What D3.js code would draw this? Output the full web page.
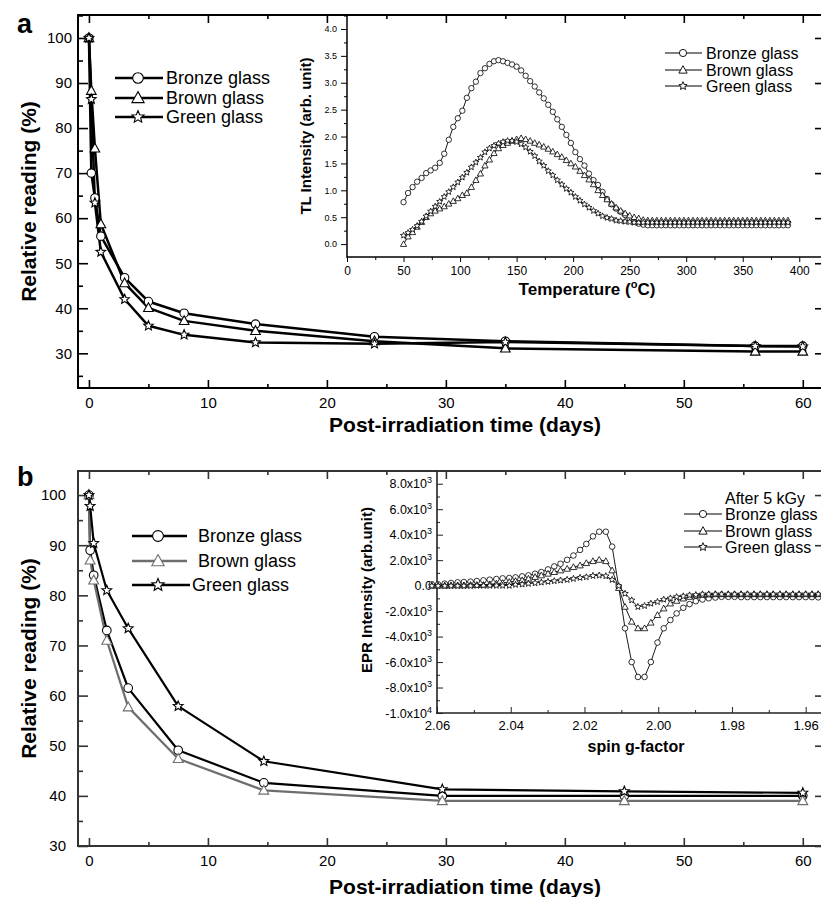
<!DOCTYPE html>
<html><head><meta charset="utf-8">
<script src="https://cdn.jsdelivr.net/npm/d3@7"></script>
<style>body{margin:0;background:#fff}svg{display:block}</style>
</head><body>
<svg id="c" width="821" height="897"></svg>
<script>
// ---------------- DATA ----------------
const seriesNames = ["Bronze glass", "Brown glass", "Green glass"];

// Panel a: main (post-irradiation fading)
const daysA   = [0, 0.2, 0.5, 1, 3, 5, 8, 14, 24, 35, 56, 60];
const bronzeA = [100, 70, 64.5, 56, 46.8, 41.5, 38.9, 36.5, 33.7, 32.7, 31.6, 31.6];
const brownA  = [100, 88.3, 75.5, 58.7, 45.6, 40.1, 37.2, 35.0, 32.7, 31.1, 30.4, 30.4];
const greenA  = [100, 86.4, 63.4, 52.5, 42.0, 36.1, 34.1, 32.4, 32.1, 32.5, 31.6, 31.5];

// Panel b: main
const daysB   = [0, 0.1, 0.4, 1.5, 3.3, 7.5, 14.7, 29.7, 45, 60];
const bronzeB = [100, 89, 84, 73, 61.5, 49.1, 42.6, 40.0, 40.0, 40.0];
const brownB  = [100, 87, 83, 71, 57.7, 47.4, 41.1, 39.0, 39.0, 39.0];
const greenB  = [100, 97.8, 90.4, 81, 73.4, 57.9, 46.9, 41.3, 40.9, 40.6];

// Main axis ticks
const xMajorMain = [0, 10, 20, 30, 40, 50, 60];
const xMinorMain = [5, 15, 25, 35, 45, 55];
const yMajorMain = [30, 40, 50, 60, 70, 80, 90, 100];
const yMinorA    = [25, 35, 45, 55, 65, 75, 85, 95, 105];
const yMinorB    = [35, 45, 55, 65, 75, 85, 95];

// Inset a: TL glow curves
const tlTemp = [50,54,58,62,66,70,74,78,82,86,90,94,98,102,106,110,114,118,122,126,
  130,134,138,142,146,150,154,158,162,166,170,174,178,182,186,190,194,198,202,206,
  210,214,218,222,226,230,234,238,242,246,250,254,258,262,266,270,274,278,282,286,
  290,294,298,302,306,310,314,318,322,326,330,334,338,342,346,350,354,358,362,366,
  370,374,378,382,386,390];
const tlBronze = [0.78,0.95,1.06,1.16,1.23,1.32,1.37,1.42,1.51,1.68,
  1.94,2.18,2.34,2.48,2.72,2.90,3.02,3.18,3.27,3.35,
  3.40,3.42,3.40,3.37,3.34,3.30,3.23,3.13,3.03,2.93,
  2.82,2.71,2.59,2.46,2.32,2.18,2.03,1.88,1.71,1.58,
  1.46,1.31,1.19,1.10,0.97,0.84,0.74,0.66,0.60,0.54,
  0.47,0.42,0.38,0.36,0.35,0.35,0.35,0.35,0.35,0.35,
  0.35,0.35,0.35,0.35,0.35,0.35,0.35,0.35,0.35,0.35,
  0.35,0.35,0.35,0.35,0.35,0.35,0.35,0.35,0.35,0.35,
  0.35,0.35,0.35,0.35,0.35,0.35];
const tlBrown = [0.00,0.14,0.22,0.32,0.41,0.50,0.57,0.62,0.66,0.70,
  0.75,0.80,0.85,0.91,0.95,1.06,1.19,1.31,1.46,1.57,
  1.69,1.78,1.84,1.88,1.92,1.95,1.97,1.95,1.92,1.88,
  1.85,1.81,1.77,1.72,1.67,1.62,1.56,1.50,1.44,1.36,
  1.28,1.20,1.11,1.00,0.91,0.83,0.75,0.68,0.62,0.57,
  0.53,0.50,0.48,0.45,0.44,0.44,0.44,0.44,0.44,0.44,
  0.44,0.44,0.44,0.44,0.44,0.44,0.44,0.44,0.44,0.44,
  0.44,0.44,0.44,0.44,0.44,0.44,0.44,0.44,0.44,0.44,
  0.44,0.44,0.44,0.44,0.44,0.44];
const tlGreen = [0.16,0.21,0.27,0.34,0.42,0.52,0.61,0.70,0.79,0.88,
  0.97,1.06,1.15,1.24,1.33,1.43,1.52,1.61,1.71,1.78,
  1.83,1.87,1.90,1.92,1.92,1.90,1.86,1.80,1.72,1.64,
  1.54,1.46,1.36,1.28,1.19,1.11,1.03,0.96,0.88,0.81,
  0.74,0.68,0.62,0.57,0.52,0.49,0.47,0.44,0.43,0.42,
  0.41,0.40,0.40,0.40,0.40,0.40,0.40,0.40,0.40,0.40,
  0.40,0.40,0.40,0.40,0.40,0.40,0.40,0.40,0.40,0.40,
  0.40,0.40,0.40,0.40,0.40,0.40,0.40,0.40,0.40,0.40,
  0.40,0.40,0.40,0.40,0.40,0.40];
const tlXMajor = [0, 50, 100, 150, 200, 250, 300, 350, 400];
const tlXMinor = [25, 75, 125, 175, 225, 275, 325, 375];
const tlYMajor = [0, 0.5, 1.0, 1.5, 2.0, 2.5, 3.0, 3.5, 4.0];
const tlYMinor = [0.25, 0.75, 1.25, 1.75, 2.25, 2.75, 3.25, 3.75, 4.25];

// Inset b: EPR spectra
const epG = [2.0614,2.0597,2.0579,2.0562,2.0544,2.0527,2.0509,2.0492,2.0474,2.0457,
  2.0439,2.0422,2.0404,2.0387,2.0369,2.0352,2.0334,2.0317,2.0299,2.0282,
  2.0265,2.0247,2.0230,2.0212,2.0195,2.0177,2.0160,2.0142,2.0125,2.0107,
  2.0090,2.0072,2.0055,2.0037,2.0020,2.0002,1.9985,1.9967,1.9950,1.9932,
  1.9915,1.9898,1.9880,1.9863,1.9845,1.9828,1.9810,1.9793,1.9775,1.9758,
  1.9740,1.9723,1.9705,1.9688,1.9670,1.9653,1.9635,1.9618,1.9600,1.9583,1.9566];
const epBronze = [104,104,156,208,260,286,312,364,416,467,
  519,571,597,649,727,805,935,1065,1273,1506,
  1714,2026,2363,2805,3272,3870,4233,4233,3064,-100,
  -3350,-6000,-7170,-7170,-6000,-4470,-3350,-2700,-2180,-1740,
  -1450,-1220,-1090,-990,-935,-880,-880,-880,-900,-900,
  -900,-900,-900,-900,-900,-900,-900,-900,-900,-900,-920];
const epBrown = [0,0,0,26,26,26,52,52,52,104,
  156,208,286,364,416,545,675,805,935,1065,
  1195,1324,1454,1584,1766,1922,2026,1922,1195,-182,
  -1662,-2831,-3350,-3350,-2909,-2311,-1792,-1402,-1195,-1013,
  -883,-779,-727,-701,-675,-675,-675,-675,-675,-675,
  -675,-675,-675,-675,-675,-675,-675,-675,-675,-675,-675];
const epGreen = [-26,-26,-26,-26,-26,-26,-26,0,0,0,
  0,0,0,78,104,156,208,260,312,364,
  416,467,545,623,675,779,805,753,467,-26,
  -623,-1143,-1662,-1584,-1402,-1273,-1091,-987,-883,-831,
  -753,-727,-675,-675,-675,-675,-675,-675,-675,-675,
  -675,-675,-675,-675,-675,-675,-675,-675,-675,-675,-675];
const epXMajor = [2.06, 2.04, 2.02, 2.00, 1.98, 1.96];
const epXMinor = [2.05, 2.03, 2.01, 1.99, 1.97];
const epYMajor = [-10000, -8000, -6000, -4000, -2000, 0, 2000, 4000, 6000, 8000];
const epYMinor = [-9000, -7000, -5000, -3000, -1000, 1000, 3000, 5000, 7000];

// ---------------- DRAWING ----------------
const SANS = "'Liberation Sans', Arial, Helvetica, sans-serif";
const NARROW = "'Liberation Sans Narrow', 'Arial Narrow', 'Liberation Sans', sans-serif";
const svg = d3.select("#c");
svg.append("rect").attr("width", 821).attr("height", 897).attr("fill", "#fff");

const xA = d3.scaleLinear().domain([-0.92, 61.7]).range([78, 823]);
const yA = d3.scaleLinear().domain([22.3, 105.1]).range([388, 15]);
const xB = d3.scaleLinear().domain([-0.92, 61.7]).range([78, 823]);
const yB = d3.scaleLinear().domain([30, 104.8]).range([846, 471]);
const xTL = d3.scaleLinear().domain([0, 421]).range([347, 823]);
const yTL = d3.scaleLinear().domain([-0.24, 4.26]).range([257, 15]);
const xEP = d3.scaleLinear().domain([2.06, 1.9553]).range([437, 823]);
const yEP = d3.scaleLinear().domain([-10000, 9000]).range([713, 471]);

function triPath(s) { const a = s * 1.15, h = a * 1.8; return `M0,${-h*0.58}L${a},${h*0.42}L${-a},${h*0.42}Z`; }
function starPath(R) {
  let p = "";
  for (let k = 0; k < 10; k++) {
    const rr = k % 2 ? R * 0.45 : R, ang = -Math.PI / 2 + k * Math.PI / 5;
    p += (k ? "L" : "M") + (rr * Math.cos(ang)).toFixed(2) + "," + (rr * Math.sin(ang)).toFixed(2);
  }
  return p + "Z";
}
function drawMarker(g, type, x, y, s, stroke, sw) {
  if (type === "circle") {
    g.append("circle").attr("cx", x).attr("cy", y).attr("r", s)
      .attr("fill", "#fff").attr("stroke", stroke).attr("stroke-width", sw);
  } else {
    g.append("path").attr("d", type === "triangle" ? triPath(s) : starPath(s * 1.2))
      .attr("transform", `translate(${x},${y})`)
      .attr("fill", "#fff").attr("stroke", stroke).attr("stroke-width", sw).attr("stroke-linejoin", "miter");
  }
}
function drawLine(g, xs, ys, xs_, ys_, color, lw) {
  const line = d3.line().x((d, i) => xs_(xs[i])).y(d => ys_(d));
  g.append("path").datum(ys).attr("d", line).attr("fill", "none")
    .attr("stroke", color).attr("stroke-width", lw).attr("stroke-linejoin", "round");
}
function drawMarkers(g, xs, ys, xs_, ys_, type, color, s, sw) {
  ys.forEach((v, i) => drawMarker(g, type, xs_(xs[i]), ys_(v), s, color, sw));
}
function addAxis(parent, gen, tx, ty, o) {
  const g = parent.append("g").attr("transform", `translate(${tx},${ty})`).call(gen);
  g.select(".domain").remove();
  g.selectAll(".tick line").attr("stroke", o.color).attr("stroke-width", o.tw);
  g.selectAll(".tick text").attr("fill", "#000").style("font-family", o.font || SANS)
    .style("font-size", (o.size || 10) + "px");
  return g;
}
function hline(g, x1, x2, y, c, w) { g.append("line").attr("x1", x1).attr("x2", x2).attr("y1", y).attr("y2", y).attr("stroke", c).attr("stroke-width", w); }
function vline(g, x, y1, y2, c, w) { g.append("line").attr("x1", x).attr("x2", x).attr("y1", y1).attr("y2", y2).attr("stroke", c).attr("stroke-width", w); }

function mainPanel(xS, yS, yMinor, top, bottom, frameColor, yPad, labelChar, labelY) {
  const g = svg.append("g");
  const noLab = () => "";
  addAxis(g, d3.axisLeft(yS).tickValues(yMajorMain).tickSize(-10).tickPadding(yPad).tickFormat(d3.format("d")), 78, 0, {color: frameColor, tw: 1.6, size: 15});
  addAxis(g, d3.axisLeft(yS).tickValues(yMinor).tickSize(-5).tickFormat(noLab), 78, 0, {color: frameColor, tw: 1.6});
  addAxis(g, d3.axisRight(yS).tickValues(yMajorMain).tickSize(-8).tickFormat(noLab), 823, 0, {color: frameColor, tw: 1.6});
  addAxis(g, d3.axisBottom(xS).tickValues(xMajorMain).tickSize(-8).tickPadding(9).tickFormat(d3.format("d")), 0, bottom, {color: frameColor, tw: 1.6, size: 15});
  addAxis(g, d3.axisBottom(xS).tickValues(xMinorMain).tickSize(-4).tickFormat(noLab), 0, bottom, {color: frameColor, tw: 1.6});
  addAxis(g, d3.axisTop(xS).tickValues(xMajorMain).tickSize(-8).tickFormat(noLab), 0, top, {color: frameColor, tw: 1.6});
  addAxis(g, d3.axisTop(xS).tickValues(xMinorMain).tickSize(-4).tickFormat(noLab), 0, top, {color: frameColor, tw: 1.6});
  vline(g, 78, top - 1, bottom + 1, frameColor, 2);
  hline(g, 77, 823, bottom, frameColor, 2);
  hline(g, 77, 823, top, frameColor, 2);
  g.append("text").attr("x", 17).attr("y", labelY).text(labelChar)
    .style("font-family", SANS).style("font-weight", "bold").style("font-size", "27px");
  const cy = (top + bottom) / 2;
  g.append("text").attr("transform", `translate(36,${cy}) rotate(-90)`).attr("text-anchor", "middle")
    .text("Relative reading (%)").style("font-family", SANS).style("font-weight", "bold").style("font-size", "21px");
  return g;
}

// ---------- Panel a ----------
const gA = mainPanel(xA, yA, yMinorA, 15, 388, "#000", 6, "a", 33);
gA.append("text").attr("x", 465).attr("y", 432).attr("text-anchor", "middle")
  .text("Post-irradiation time (days)").style("font-family", SANS).style("font-weight", "bold").style("font-size", "21px");
const seriesA = [[bronzeA, "circle", "#000"], [brownA, "triangle", "#000"], [greenA, "star", "#000"]];
seriesA.forEach(s => drawLine(gA, daysA, s[0], xA, yA, s[2], 2.5));
seriesA.forEach(s => drawMarkers(gA, daysA, s[0], xA, yA, s[1], s[2], 4.2, 1.1));
[78, 98, 117].forEach((ry, i) => {
  hline(gA, 115, 163, ry, "#000", 2.5);
  drawMarker(gA, seriesA[i][1], 138, ry, 5.3, "#000", 1.1);
  gA.append("text").attr("x", 166).attr("y", ry + 6.4).text(seriesNames[i])
    .style("font-family", SANS).style("font-size", "18px");
});

// Inset a
const gTL = svg.append("g");
addAxis(gTL, d3.axisLeft(yTL).tickValues(tlYMajor).tickSize(6).tickPadding(4).tickFormat(d3.format(".1f")), 347, 0, {color: "#000", tw: 1, size: 9, font: NARROW});
addAxis(gTL, d3.axisLeft(yTL).tickValues(tlYMinor).tickSize(3).tickFormat(() => ""), 347, 0, {color: "#000", tw: 1});
addAxis(gTL, d3.axisBottom(xTL).tickValues(tlXMajor).tickSize(5).tickPadding(4).tickFormat(d3.format("d")), 0, 257, {color: "#000", tw: 1, size: 12, font: NARROW});
addAxis(gTL, d3.axisBottom(xTL).tickValues(tlXMinor).tickSize(3).tickFormat(() => ""), 0, 257, {color: "#000", tw: 1});
vline(gTL, 347, 15, 257.5, "#000", 1.5);
hline(gTL, 346.5, 823, 257, "#000", 1.5);
const tlTitle = gTL.append("text").attr("x", 587).attr("y", 295).attr("text-anchor", "middle")
  .style("font-family", NARROW).style("font-weight", "bold").style("font-size", "17px");
tlTitle.append("tspan").text("Temperature  (");
tlTitle.append("tspan").attr("dy", -7).style("font-size", "11px").text("o");
tlTitle.append("tspan").attr("dy", 7).text("C)");
gTL.append("text").attr("transform", "translate(311,136) rotate(-90)").attr("text-anchor", "middle")
  .text("TL Intensity (arb. unit)").style("font-family", SANS).style("font-weight", "bold").style("font-size", "15px");
const seriesTL = [[tlBronze, "circle"], [tlBrown, "triangle"], [tlGreen, "star"]];
seriesTL.forEach(s => drawLine(gTL, tlTemp, s[0], xTL, yTL, "#000", 0.9));
seriesTL.forEach(s => drawMarkers(gTL, tlTemp, s[0], xTL, yTL, s[1], "#000", 2.7, 0.8));
[53, 70, 86].forEach((ry, i) => {
  hline(gTL, 665, 702, ry, "#000", 1);
  drawMarker(gTL, seriesTL[i][1], 683, ry, 3.6, "#000", 0.9);
  gTL.append("text").attr("x", 706).attr("y", ry + 5.7).text(seriesNames[i])
    .style("font-family", SANS).style("font-size", "16px");
});

// ---------- Panel b ----------
const gB = mainPanel(xB, yB, yMinorB, 471, 846, "#333", 12, "b", 486);
gB.append("text").attr("x", 465).attr("y", 894).attr("text-anchor", "middle")
  .text("Post-irradiation time (days)").style("font-family", SANS).style("font-weight", "bold").style("font-size", "21px");
const seriesB = [[bronzeB, "circle", "#000"], [brownB, "triangle", "#6e6e6e"], [greenB, "star", "#000"]];
seriesB.forEach(s => drawLine(gB, daysB, s[0], xB, yB, s[2], 2.2));
seriesB.forEach(s => drawMarkers(gB, daysB, s[0], xB, yB, s[1], s[2], 4.3, 1.1));
[536, 561, 585].forEach((ry, i) => {
  hline(gB, 132, i === 2 ? 190 : 187, ry, seriesB[i][2], 2.5);
  drawMarker(gB, seriesB[i][1], 158, ry, 5.4, seriesB[i][2], 1.1);
  gB.append("text").attr("x", i === 2 ? 192 : 198).attr("y", ry + 6.4).text(seriesNames[i])
    .style("font-family", SANS).style("font-size", "18px");
});

// Inset b
const gEP = svg.append("g");
const epAx = addAxis(gEP, d3.axisLeft(yEP).tickValues(epYMajor).tickSize(-6).tickPadding(5), 437, 0, {color: "#222", tw: 1, size: 12.5});
epAx.selectAll(".tick text").each(function(d) {
  const t = d3.select(this); t.text(null);
  if (d === 0) { t.text("0.0"); return; }
  const e = Math.abs(d) >= 10000 ? 4 : 3;
  const m = d / Math.pow(10, e);
  t.append("tspan").text(m.toFixed(1) + "x10");
  t.append("tspan").attr("dy", -5).style("font-size", "9px").text(String(e));
});
addAxis(gEP, d3.axisLeft(yEP).tickValues(epYMinor).tickSize(-3).tickFormat(() => ""), 437, 0, {color: "#222", tw: 1});
addAxis(gEP, d3.axisBottom(xEP).tickValues(epXMajor).tickSize(-6).tickPadding(8).tickFormat(d3.format(".2f")), 0, 713, {color: "#222", tw: 1, size: 13});
addAxis(gEP, d3.axisBottom(xEP).tickValues(epXMinor).tickSize(-3).tickFormat(() => ""), 0, 713, {color: "#222", tw: 1});
vline(gEP, 437, 471, 713.8, "#222", 1.6);
hline(gEP, 436.2, 823, 713, "#222", 1.6);
gEP.append("text").attr("x", 636).attr("y", 752).attr("text-anchor", "middle").text("spin g-factor")
  .style("font-family", NARROW).style("font-weight", "bold").style("font-size", "16px");
gEP.append("text").attr("transform", "translate(372,590) rotate(-90)").attr("text-anchor", "middle")
  .text("EPR Intensity (arb.unit)").style("font-family", SANS).style("font-weight", "bold").style("font-size", "15px");
const seriesEP = [[epBronze, "circle"], [epBrown, "triangle"], [epGreen, "star"]];
seriesEP.forEach(s => drawLine(gEP, epG, s[0], xEP, yEP, "#000", 0.9));
seriesEP.forEach(s => drawMarkers(gEP, epG, s[0], xEP, yEP, s[1], "#000", 2.8, 0.8));
gEP.append("text").attr("x", 725).attr("y", 503.5).text("After 5 kGy")
  .style("font-family", SANS).style("font-size", "16px");
[514, 531, 547].forEach((ry, i) => {
  hline(gEP, 684, 722, ry, "#000", 1);
  drawMarker(gEP, seriesEP[i][1], 703, ry, 3.6, "#000", 0.9);
  gEP.append("text").attr("x", 725).attr("y", ry + 5.7).text(seriesNames[i])
    .style("font-family", SANS).style("font-size", "16px");
});
</script>
</body></html>
